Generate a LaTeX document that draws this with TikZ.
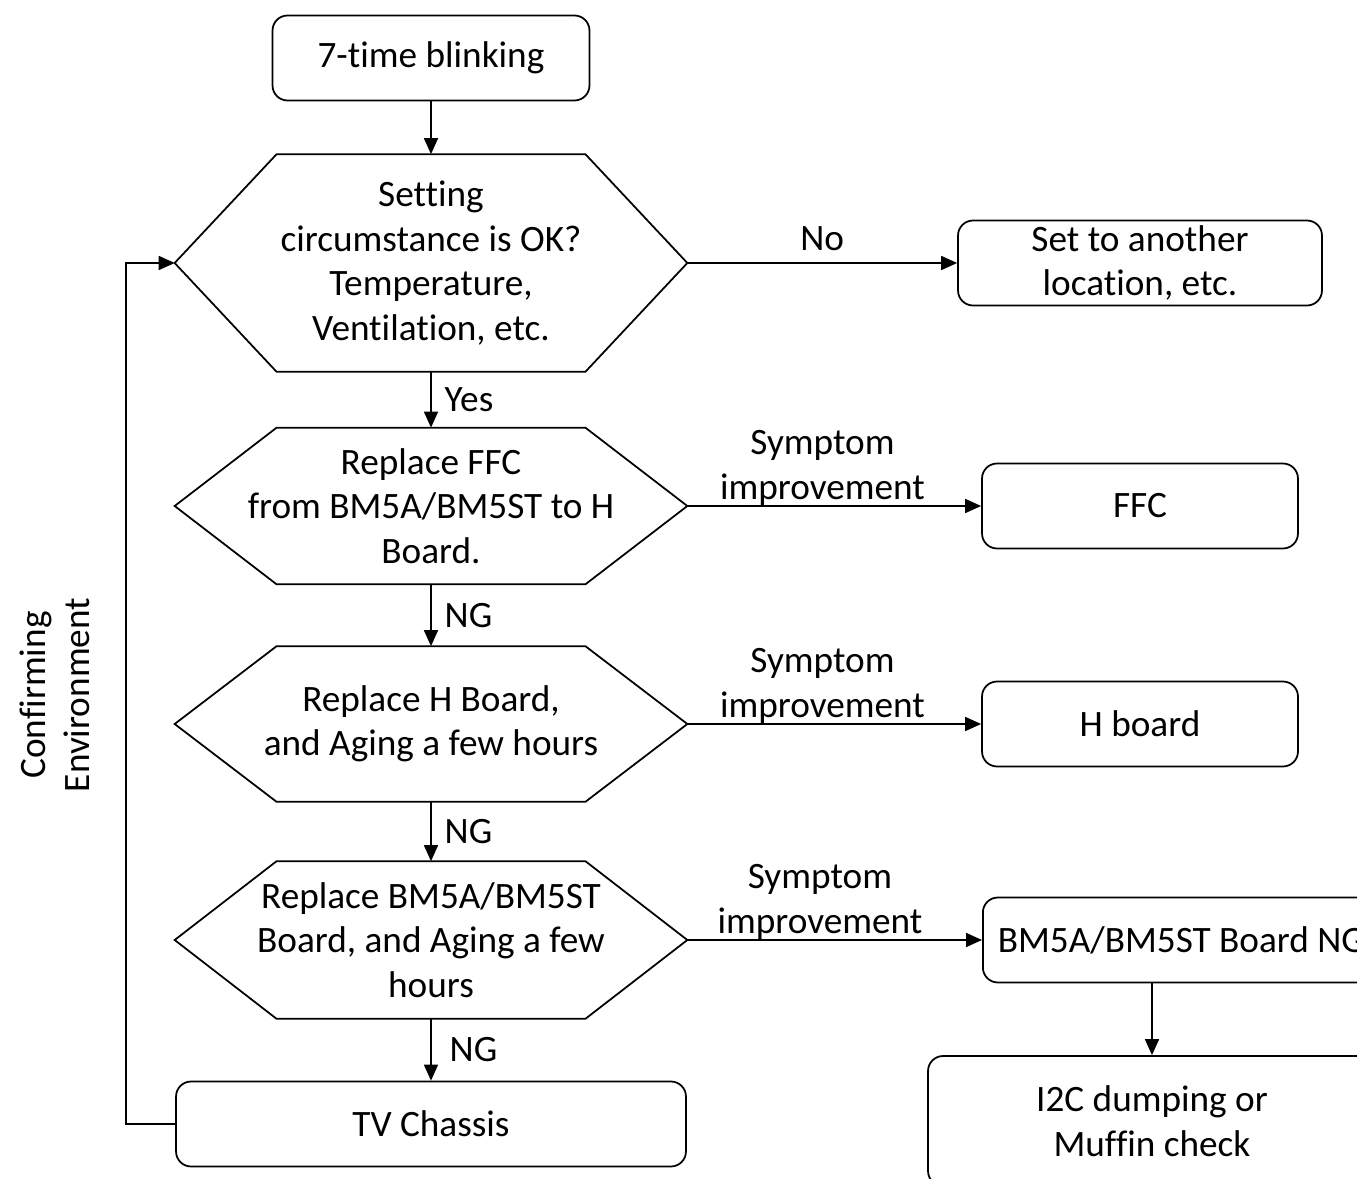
\documentclass[tikz,border=0pt]{standalone}
\usepackage{fontspec}
\setmainfont{Carlito}[Ligatures=NoCommon]
\usetikzlibrary{arrows.meta,positioning}

\begin{document}
\begin{tikzpicture}[x=0.02cm,y=-0.02cm,line width=1pt,font=\fontsize{21.2}{25.3}\selectfont,
  box/.style={draw,rounded corners=0.3cm,minimum height=1.7cm,align=center,inner sep=0pt},
  hexa/.style={minimum width=10.22cm,align=center,inner sep=0pt},
  arr/.style={-{Triangle[length=0.32cm,width=0.28cm]}},
  sym/.style={above=0pt,inner sep=0pt,align=center}]
\clip (0,0) rectangle (1357,1179);
% left column
\node[box,minimum width=6.34cm] (blink) at (431,58) {7-time blinking};
\node[hexa,minimum height=4.32cm] (env) at (431,263) {Setting\\circumstance is OK?\\Temperature,\\Ventilation, etc.};
\node[hexa,minimum height=3.1cm] (ffc) at (431,506) {Replace FFC\\from BM5A/BM5ST to H\\Board.};
\node[hexa,minimum height=3.08cm] (hbrd) at (431,724) {Replace H Board,\\and Aging a few hours};
\node[hexa,minimum height=3.12cm] (main) at (431,940) {Replace BM5A/BM5ST\\Board, and Aging a few\\hours};
\node[box,minimum width=10.2cm] (chassis) at (431,1124) {TV Chassis};
\foreach \h in {env,ffc,hbrd,main}
  \draw (\h.west) -- ([xshift=2.04cm]\h.north west) -- ([xshift=-2.04cm]\h.north east) -- (\h.east)
    -- ([xshift=-2.04cm]\h.south east) -- ([xshift=2.04cm]\h.south west) -- cycle;
% right column
\node[box,minimum width=7.28cm] (setloc) at (1140,263) {Set to another\\location, etc.};
\node[box,minimum width=6.32cm] (ffcok) at (1140,506) {FFC};
\node[box,minimum width=6.32cm] (hok) at (1140,724) {H board};
\node[box,anchor=west,inner xsep=0.3cm] (mainng) at (982,940) {BM5A/BM5ST Board NG};
\node[box,minimum width=8.96cm,minimum height=2.6cm] (muffin) at (1152,1121) {I2C dumping or\\Muffin check};
\node[rotate=90,align=center] (confirm) at (55,695) {Confirming\\Environment};
% connectors
\draw[arr] (blink.south) -- (env.north);
\draw[arr] (env.south) -- node[right=0.14cm] {Yes} (ffc.north);
\draw[arr] (ffc.south) -- node[right=0.14cm] {NG} (hbrd.north);
\draw[arr] (hbrd.south) -- node[right=0.14cm] {NG} (main.north);
\draw[arr] (main.south) -- node[right=0.24cm] {NG} (chassis.north);
\draw[arr] (env.east) -- node[above=0.12cm] {No} (setloc.west);
\draw[arr] (ffc.east) -- node[sym,pos=.46] {Symptom\\improvement} (ffcok.west);
\draw[arr] (hbrd.east) -- node[sym,pos=.46] {Symptom\\improvement} (hok.west);
\draw[arr] (main.east) -- node[sym,pos=.45] {Symptom\\improvement} (mainng.west);
\draw[arr] (mainng.south -| muffin.north) -- (muffin.north);
\draw[arr] (chassis.west) -- ++(-49,0) |- (env.west);
\end{tikzpicture}
\end{document}
